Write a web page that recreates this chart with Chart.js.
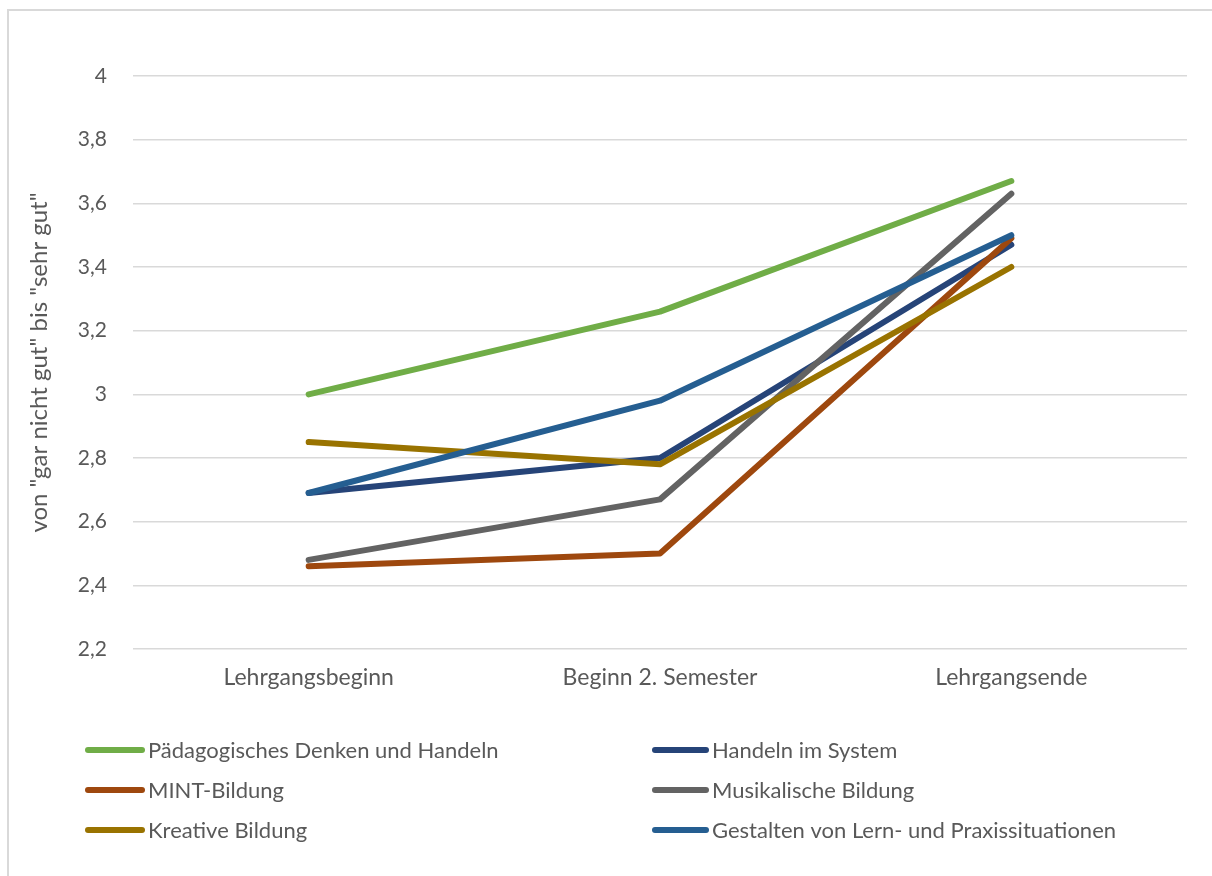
<!DOCTYPE html>
<html>
<head>
<meta charset="utf-8">
<script src="https://cdn.jsdelivr.net/npm/chart.js@4.4.0/dist/chart.umd.min.js"></script>
<style>
  html, body { margin: 0; padding: 0; background: #fff; overflow: hidden; }
  #frame { position: absolute; left: 7px; top: 9px; width: 1300px; height: 1000px;
           border: 2px solid #d9d9d9; box-sizing: border-box; }
  #wrap { position: absolute; left: 0; top: 0; width: 1212px; height: 876px; }
</style>
</head>
<body>
<div id="frame"></div>
<div id="wrap"><canvas id="c" width="1212" height="876"></canvas></div>
<script>
// Survey time points
const categories = ["Lehrgangsbeginn", "Beginn 2. Semester", "Lehrgangsende"];

// Mean self-assessment per competence area
const paedagogisches = [3.00, 3.26, 3.67];
const handelnSystem  = [2.69, 2.80, 3.47];
const mintBildung    = [2.46, 2.50, 3.49];
const musikalische   = [2.48, 2.67, 3.63];
const kreative       = [2.85, 2.78, 3.40];
const gestalten      = [2.69, 2.98, 3.50];

const seriesNames = [
  "Pädagogisches Denken und Handeln",
  "Handeln im System",
  "MINT-Bildung",
  "Musikalische Bildung",
  "Kreative Bildung",
  "Gestalten von Lern- und Praxissituationen"
];
const seriesValues = [paedagogisches, handelnSystem, mintBildung, musikalische, kreative, gestalten];
const seriesColors = ["#70AD47", "#264478", "#9E480E", "#636363", "#997300", "#255E91"];

const yMin = 2.2, yMax = 4.0, yStep = 0.2;
const yTitle = 'von "gar nicht gut" bis "sehr gut"';

const FONT = "Lato, 'Liberation Sans', sans-serif";
const TEXT = "#595959";

// Two-column legend drawn below the plot
const legendPlugin = {
  id: "twoColLegend",
  afterDraw(chart) {
    const ctx = chart.ctx;
    const cols = [{ x0: 88, x1: 142, tx: 148 }, { x0: 655, x1: 706, tx: 712 }];
    const rows = [750, 790, 830];
    ctx.save();
    ctx.font = "22px " + FONT;
    ctx.textBaseline = "middle";
    ctx.textAlign = "left";
    chart.data.datasets.forEach((ds, i) => {
      const c = cols[i % 2], y = rows[Math.floor(i / 2)];
      ctx.strokeStyle = ds.borderColor;
      ctx.lineWidth = 6;
      ctx.lineCap = "round";
      ctx.beginPath();
      ctx.moveTo(c.x0, y);
      ctx.lineTo(c.x1, y);
      ctx.stroke();
      ctx.fillStyle = TEXT;
      ctx.fillText(ds.label, c.tx, y + 1);
    });
    ctx.restore();
  }
};

new Chart(document.getElementById("c"), {
  type: "line",
  data: {
    labels: categories,
    datasets: seriesNames.map((name, i) => ({
      label: name,
      data: seriesValues[i],
      borderColor: seriesColors[i],
      backgroundColor: seriesColors[i],
      borderWidth: 6,
      borderCapStyle: "round",
      borderJoinStyle: "round",
      pointRadius: 0,
      pointHoverRadius: 0,
      tension: 0,
      fill: false,
      order: -i
    }))
  },
  options: {
    responsive: false,
    animation: false,
    devicePixelRatio: 1,
    layout: { padding: { left: 0, right: 25, top: 76, bottom: 177 } },
    plugins: { legend: { display: false }, tooltip: { enabled: false } },
    scales: {
      x: {
        offset: true,
        grid: { display: false, drawTicks: false },
        border: { display: false },
        ticks: { color: TEXT, font: { family: FONT, size: 23 }, padding: 15 },
        afterFit(s) { s.height = 50; }
      },
      y: {
        min: yMin, max: yMax,
        grid: { color: "#d9d9d9", lineWidth: 1.6, drawTicks: false },
        border: { display: false },
        ticks: {
          stepSize: yStep,
          color: TEXT,
          font: { family: FONT, size: 21 },
          padding: 26,
          callback: v => (Math.round(v * 10) / 10).toString().replace(".", ",")
        },
        title: {
          display: true,
          text: yTitle,
          color: TEXT,
          font: { family: FONT, size: 24 },
          padding: { top: 25, bottom: 0 }
        },
        afterFit(s) { s.width = 133; }
      }
    }
  },
  plugins: [legendPlugin]
});
</script>
</body>
</html>
